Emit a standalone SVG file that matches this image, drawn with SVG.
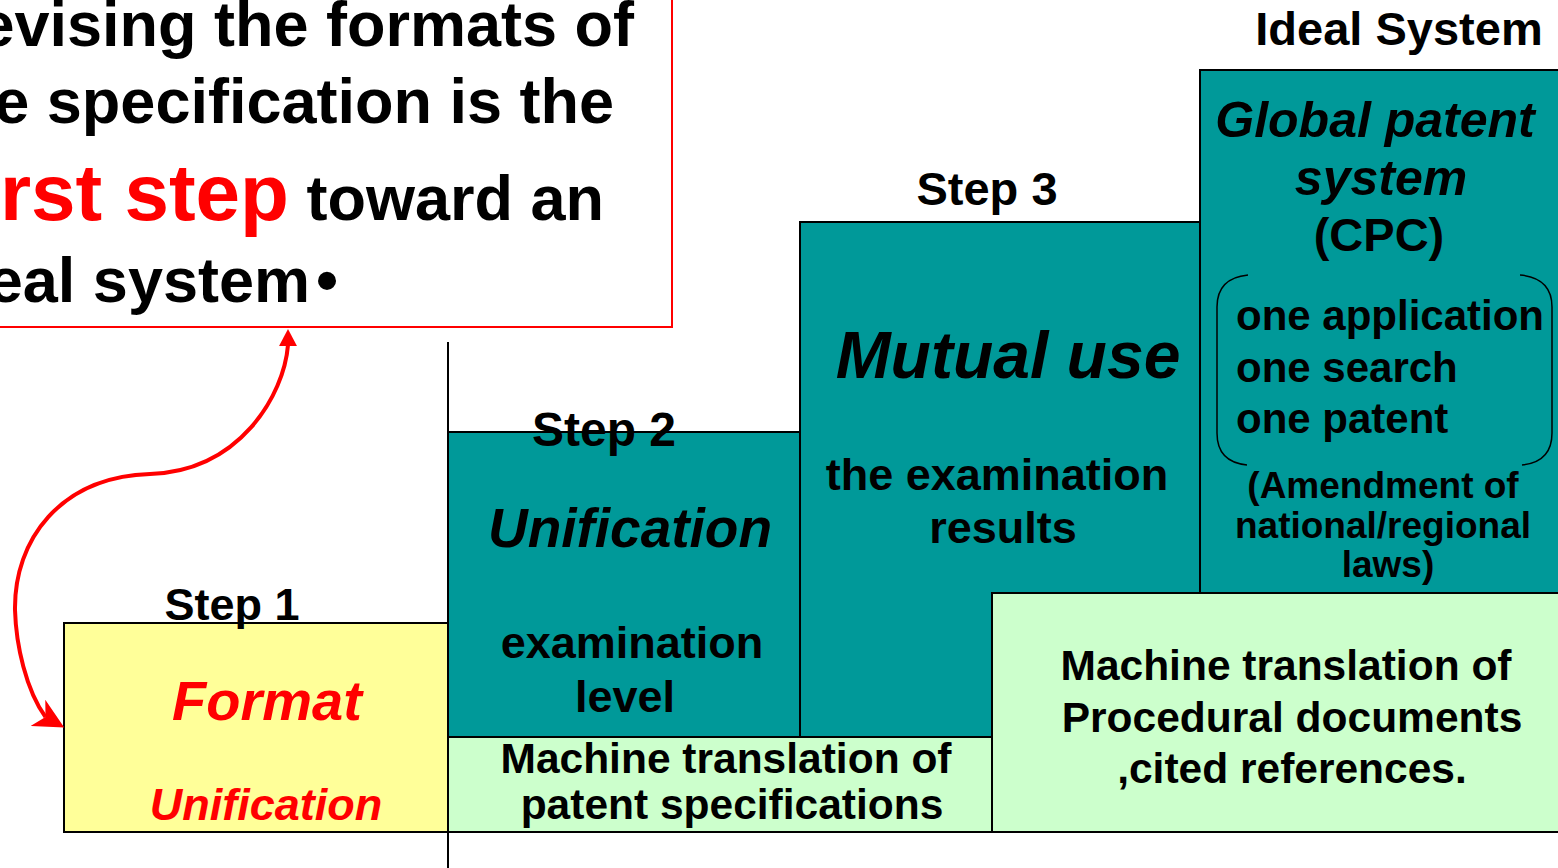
<svg xmlns="http://www.w3.org/2000/svg" width="1558" height="868" viewBox="0 0 1558 868">
<style>
text{font-family:"Liberation Sans",Arial,sans-serif;font-weight:bold;fill:#000}
.c{text-anchor:middle}
.i{font-style:italic}
.red{fill:#FF0000}
.box{stroke:#000;stroke-width:2}
.teal{fill:#009999}
.green{fill:#CCFFCC}
.yellow{fill:#FFFF99}
</style>
<defs>
<marker id="arrS" markerUnits="userSpaceOnUse" markerWidth="18" markerHeight="18" viewBox="0 0 17 17" refX="1" refY="8.5" orient="-90">
<path d="M0,0 L16,8.5 L0,17 z" fill="#FF0000"/>
</marker>
<marker id="arrE" markerUnits="userSpaceOnUse" markerWidth="30" markerHeight="30" viewBox="0 0 28 28" refX="8" refY="14" orient="29">
<path d="M0,0 L28,14 L0,28 L8,14 z" fill="#FF0000"/>
</marker>
</defs>
<rect width="1558" height="868" fill="#FFFFFF"/>

<g id="callout">
<rect x="-60" y="-10" width="732" height="337" fill="#FFFFFF" stroke="#FF0000" stroke-width="2"/>
<text x="634" y="46" font-size="63" text-anchor="end">Revising the formats of</text>
<text x="614" y="123" font-size="63" text-anchor="end">the specification is the</text>
<text x="604" y="220" font-size="63" text-anchor="end"><tspan class="red" font-size="80">first step</tspan> toward an</text>
<text x="310" y="302" font-size="63" text-anchor="end">ideal system</text>
<text x="316" y="302" font-size="63">•</text>
</g>

<line id="divider" x1="448" y1="342" x2="448" y2="868" stroke="#000" stroke-width="2"/>

<g id="step3">
<rect class="box teal" x="800" y="222" width="400" height="515"/>
<text class="c" x="987" y="205" font-size="47">Step 3</text>
<text class="c i" x="1008" y="378" font-size="66">Mutual use</text>
<text class="c" x="997" y="490" font-size="45">the examination</text>
<text class="c" x="1003" y="543" font-size="45">results</text>
</g>

<g id="step2">
<rect class="box teal" x="448" y="432" width="352" height="305"/>
<text class="c" x="630" y="547" font-size="55" font-style="italic">Unification</text>
<text class="c" x="632" y="658" font-size="45">examination</text>
<text class="c" x="625" y="712" font-size="45">level</text>
<text class="c" x="604" y="446" font-size="48">Step 2</text>
</g>

<g id="ideal">
<rect class="box teal" x="1200" y="70" width="370" height="523"/>
<text class="c" x="1399" y="45" font-size="47">Ideal System</text>
<text class="c i" x="1375" y="137" font-size="50">Global patent</text>
<text class="c i" x="1381" y="195" font-size="50">system</text>
<text class="c" x="1379" y="251" font-size="47">(CPC)</text>
<path d="M1248,275 Q1217,278 1217,307 L1217,433 Q1217,462 1247,465 M1520,275 Q1552,278 1552,307 L1552,433 Q1552,462 1522,465" fill="none" stroke="#000" stroke-width="1.5"/>
<text x="1236" y="330" font-size="42">one application</text>
<text x="1236" y="382" font-size="42">one search</text>
<text x="1236" y="433" font-size="42">one patent</text>
<text class="c" x="1383" y="498" font-size="37">(Amendment of</text>
<text class="c" x="1383" y="538" font-size="37">national/regional</text>
<text class="c" x="1388" y="577" font-size="37">laws)</text>
</g>

<g id="mt-procedural">
<rect class="box green" x="992" y="593" width="578" height="239"/>
<text class="c" x="1286" y="680" font-size="42.5">Machine translation of</text>
<text class="c" x="1292" y="732" font-size="42.5">Procedural documents</text>
<text class="c" x="1292" y="783" font-size="42.5">,cited references.</text>
</g>

<g id="mt-specifications">
<rect class="box green" x="448" y="737" width="544" height="95"/>
<text class="c" x="726" y="773" font-size="42.5">Machine translation of</text>
<text class="c" x="732" y="819" font-size="42.5">patent specifications</text>
</g>

<g id="step1">
<rect class="box yellow" x="64" y="623" width="384" height="209"/>
<text class="c" x="232" y="620" font-size="45">Step 1</text>
<text class="c i red" x="267" y="720" font-size="56">Format</text>
<text class="c i red" x="266" y="820" font-size="45">Unification</text>
</g>

<g id="connectors">
<path d="M288,345 C284,395 240,471 150,474 C60,477 14,540 15,610 C16,645 26,690 45.5,717" fill="none" stroke="#FF0000" stroke-width="4" marker-start="url(#arrS)" marker-end="url(#arrE)"/>
</g>
</svg>
